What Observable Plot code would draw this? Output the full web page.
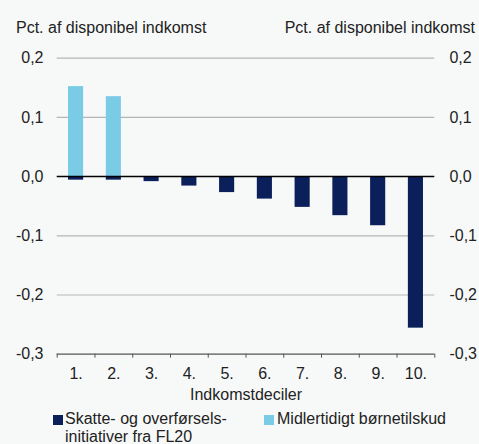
<!DOCTYPE html>
<html>
<head>
<meta charset="utf-8">
<script src="https://cdn.jsdelivr.net/npm/d3@7"></script>
<script src="https://cdn.jsdelivr.net/npm/@observablehq/plot@0.6"></script>
<style>
  html, body { margin: 0; padding: 0; background: #f7f9f9; }
  body { width: 479px; height: 444px; overflow: hidden; font-family: "Liberation Sans", Arial, sans-serif; color: #222; }
  .header { height: 40px; box-sizing: border-box; padding: 19.5px 4px 0 16px; display: flex; justify-content: space-between; font-size: 16px; line-height: 16px; }
  #chart svg { display: block; }
  .legend { display: flex; font-size: 16px; line-height: 18px; padding-left: 53px; }
  .item { display: flex; align-items: flex-start; }
  .sw { width: 10px; height: 10px; margin-top: 5px; margin-right: 2px; flex: none; }
</style>
</head>
<body>
<div class="header"><span>Pct. af disponibel indkomst</span><span>Pct. af disponibel indkomst</span></div>
<div id="chart"></div>
<div class="legend">
  <div class="item" style="width:211px"><div class="sw" id="sw0"></div><div>Skatte- og overførsels-<br>initiativer fra FL20</div></div>
  <div class="item"><div class="sw" id="sw1" style="margin-right:3px"></div><div>Midlertidigt børnetilskud</div></div>
</div>
<script>
const deciles = ["1.", "2.", "3.", "4.", "5.", "6.", "7.", "8.", "9.", "10."];
const skatte = [-0.006, -0.006, -0.0085, -0.016, -0.027, -0.038, -0.052, -0.066, -0.083, -0.256];
const boernetilskud = [0.152, 0.135, 0, 0, 0, 0, 0, 0, 0, 0];
const seriesNames = ["Skatte- og overførsels-initiativer fra FL20", "Midlertidigt børnetilskud"];
const colors = ["#0b1f5a", "#7acbe6"];
const yTicks = [-0.3, -0.2, -0.1, 0, 0.1, 0.2];
const axisLabel = "Indkomstdeciler";

document.getElementById("sw0").style.background = colors[0];
document.getElementById("sw1").style.background = colors[1];

const data = [];
deciles.forEach((d, i) => {
  data.push({pos: i + 1, decile: d, series: seriesNames[0], value: skatte[i]});
  data.push({pos: i + 1, decile: d, series: seriesNames[1], value: boernetilskud[i]});
});
const half = 0.2; // half bar width in category units
const fmt = v => v.toFixed(1).replace(".", ",").replace("-0,0", "0,0");

const chart = Plot.plot({
  width: 479,
  height: 370,
  marginTop: 17.7,
  marginBottom: 56.3,
  marginLeft: 56.7,
  marginRight: 44.7,
  style: {fontFamily: "'Liberation Sans', Arial, sans-serif", fontSize: "16px", background: "transparent", color: "#222"},
  x: {type: "linear", domain: [0.5, deciles.length + 0.5]},
  y: {domain: [-0.3, 0.2]},
  color: {domain: seriesNames, range: colors},
  marks: [
    Plot.ruleY(yTicks.filter(v => v !== 0 && v !== -0.3), {stroke: "#b5b5b5", strokeWidth: 1.2}),
    Plot.rectY(data.filter(d => d.value !== 0), {x1: d => d.pos - half, x2: d => d.pos + half, y1: 0, y2: "value", fill: "series"}),
    Plot.ruleY([0], {stroke: "#000", strokeWidth: 1.5}),
    Plot.ruleY([-0.3], {stroke: "#555", strokeWidth: 1.2}),
    Plot.axisX(d3.range(0.5, deciles.length + 1, 1), {tickSize: 4, tickFormat: () => "", stroke: "#555", label: null}),
    Plot.axisX(deciles.map((d, i) => i + 1), {tickSize: 0, tickPadding: 13, tickFormat: v => deciles[v - 1], label: axisLabel, labelAnchor: "center", labelArrow: "none", labelOffset: 46}),
    Plot.axisY(yTicks, {anchor: "left", tickSize: 0, tickPadding: 13.7, tickFormat: fmt, label: null}),
    Plot.axisY(yTicks, {anchor: "right", tickSize: 0, tickPadding: 14.6, tickFormat: fmt, label: null})
  ]
});
document.getElementById("chart").appendChild(chart);
</script>
</body>
</html>
